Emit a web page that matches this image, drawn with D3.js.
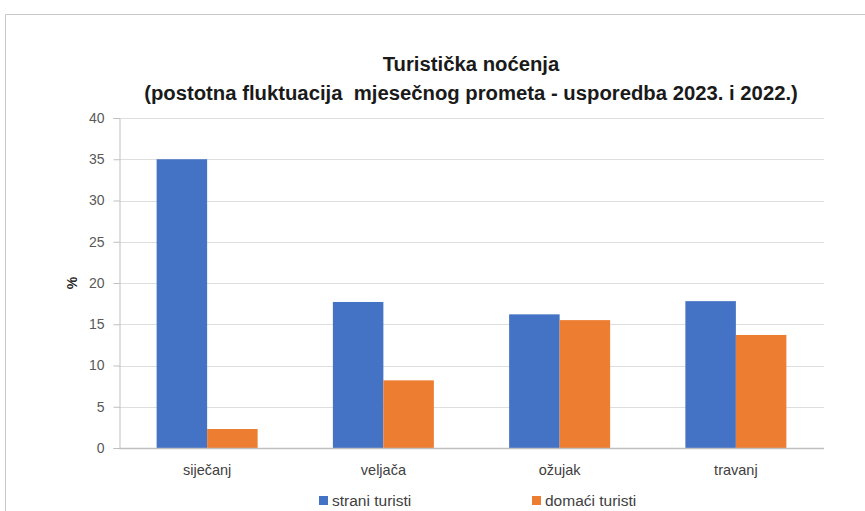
<!DOCTYPE html>
<html>
<head>
<meta charset="utf-8">
<script src="https://cdn.jsdelivr.net/npm/d3@7"></script>
<style>
body { margin: 0; background: #fff; }
text { font-family: "Liberation Sans", Arial, sans-serif; }
</style>
</head>
<body>
<script>
var categories = ["siječanj", "veljača", "ožujak", "travanj"];
var seriesNames = ["strani turisti", "domaći turisti"];
var strani = [35.0, 17.7, 16.2, 17.8];
var domaci = [2.3, 8.2, 15.5, 13.7];
var yTicks = [0, 5, 10, 15, 20, 25, 30, 35, 40];
var colors = ["#4472c4", "#ed7d31"];

var width = 865, height = 511;
var plotLeft = 119, plotRight = 824, plotTop = 118, plotBottom = 448;

var svg = d3.select("body").append("svg")
	.attr("width", width)
	.attr("height", height);

// frame of the chart area
svg.append("path")
	.attr("d", "M5.5," + height + "V14.5H" + width)
	.attr("fill", "none")
	.attr("stroke", "#c8c8c8");

var y = d3.scaleLinear().domain([0, 40]).range([plotBottom, plotTop]);

var x0 = d3.scaleBand()
	.domain(categories)
	.range([plotLeft, plotRight])
	.paddingInner(0.427)
	.paddingOuter(0.2135);

var x1 = d3.scaleBand()
	.domain(seriesNames)
	.range([0, x0.bandwidth()]);

// gridlines
svg.append("g")
	.selectAll("line")
	.data(yTicks.slice(1))
	.enter()
	.append("line")
	.attr("x1", plotLeft).attr("x2", plotRight)
	.attr("y1", function(d) { return Math.round(y(d)) + 0.5; })
	.attr("y2", function(d) { return Math.round(y(d)) + 0.5; })
	.attr("stroke", "#dedede");

var rows = categories.map(function(c, i) { return {cat: c, values: [strani[i], domaci[i]]}; });

var groups = svg.append("g")
	.selectAll("g")
	.data(rows)
	.enter()
	.append("g")
	.attr("transform", function(d) { return "translate(" + x0(d.cat) + ",0)"; });

groups.selectAll("rect")
	.data(function(d) { return d.values.map(function(v, i) { return {name: seriesNames[i], value: v, i: i}; }); })
	.enter()
	.append("rect")
	.attr("x", function(d) { return x1(d.name); })
	.attr("width", x1.bandwidth())
	.attr("y", function(d) { return y(d.value); })
	.attr("height", function(d) { return plotBottom - y(d.value); })
	.attr("fill", function(d) { return colors[d.i]; });

// y axis
var yAxis = d3.axisLeft(y).tickValues(yTicks).tickSize(6).tickPadding(9);
var gy = svg.append("g")
	.attr("transform", "translate(" + (plotLeft + 0.5) + ",0)")
	.call(yAxis);
gy.select(".domain").attr("stroke", "#bfbfbf");
gy.selectAll(".tick line").attr("stroke", "#bfbfbf");
gy.selectAll(".tick text")
	.attr("fill", "#595959")
	.style("font-size", "14px");

// x axis
var xAxis = d3.axisBottom(x0).tickSize(0).tickPadding(16);
var gx = svg.append("g")
	.attr("transform", "translate(0," + (plotBottom + 0.5) + ")")
	.call(xAxis);
gx.select(".domain").attr("stroke", "#bfbfbf").attr("stroke-width", 1.5)
	.attr("d", "M" + plotLeft + ",0H" + plotRight);
gx.selectAll(".tick text")
	.attr("fill", "#404040")
	.style("font-size", "14.5px");

// axis title
svg.append("text")
	.attr("transform", "translate(77,283) rotate(-90)")
	.attr("text-anchor", "middle")
	.style("font-size", "14px")
	.style("font-weight", "bold")
	.attr("fill", "#262626")
	.text("%");

// title (keep the double space of the original)
var title = svg.append("text")
	.attr("text-anchor", "middle")
	.style("font-size", "20.3px")
	.style("font-weight", "bold")
	.style("white-space", "pre")
	.attr("fill", "#1a1a1a");
title.append("tspan").attr("x", 471).attr("y", 71).text("Turistička noćenja");
title.append("tspan").attr("x", 471).attr("y", 100).text("(postotna fluktuacija  mjesečnog prometa - usporedba 2023. i 2022.)");

// legend
var legendX = [319, 532];
var legend = svg.append("g")
	.selectAll("g")
	.data(seriesNames)
	.enter()
	.append("g")
	.attr("transform", function(d, i) { return "translate(" + legendX[i] + ",496)"; });
legend.append("rect")
	.attr("width", 9).attr("height", 9)
	.attr("fill", function(d, i) { return colors[i]; });
legend.append("text")
	.attr("x", 13).attr("y", 9.5)
	.style("font-size", "15.5px")
	.attr("fill", "#404040")
	.text(function(d) { return d; });
</script>
</body>
</html>
